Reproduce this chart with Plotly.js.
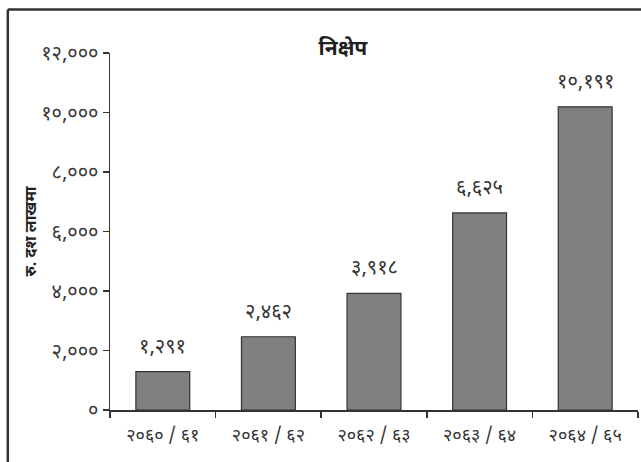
<!DOCTYPE html>
<html>
<head>
<meta charset="utf-8">
<script src="https://cdn.plot.ly/plotly-3.0.1.min.js"></script>
<style>html,body{margin:0;padding:0;background:#fff;}#chart{width:641px;height:462px;}</style>
</head>
<body>
<div id="chart"></div>
<script>
// Data
var categories = ["२०६० / ६१", "२०६१ / ६२", "२०६२ / ६३", "२०६३ / ६४", "२०६४ / ६५"];
var deposits = [1291, 2462, 3918, 6625, 10191];
var valueLabels = ["१,२९१", "२,४६२", "३,९१८", "६,६२५", "१०,१९१"];
var yTickVals = [0, 2000, 4000, 6000, 8000, 10000, 12000];
var yTickText = ["०", "२,०००", "४,०००", "६,०००", "८,०००", "१०,०००", "१२,०००"];
var chartTitle = "निक्षेप";
var yTitle = "रु. दश लाखमा";

var fontFam = "'Noto Sans Devanagari', 'Noto Sans', sans-serif";

var trace = {
  type: "bar",
  x: categories,
  y: deposits,
  marker: {color: "#808083", line: {color: "#333333", width: 1.2}},
  width: 0.51,
  hoverinfo: "none"
};

var annotations = categories.map(function(c, i) {
  return {
    x: c, y: deposits[i], xref: "x", yref: "y",
    text: valueLabels[i], showarrow: false,
    yanchor: "bottom", yshift: 9,
    font: {family: fontFam, size: 20, color: "#333333"}
  };
});

var layout = {
  width: 641, height: 462,
  margin: {l: 110, r: 3, t: 53, b: 52},
  paper_bgcolor: "#ffffff", plot_bgcolor: "#ffffff",
  showlegend: false,
  title: {
    text: "<b>" + chartTitle + "</b>",
    x: 0.535, xref: "container", xanchor: "center",
    y: 0.896, yref: "container", yanchor: "middle",
    font: {family: fontFam, size: 21, color: "#222222"}
  },
  xaxis: {
    type: "category",
    range: [-0.5, 4.5],
    showline: true, linecolor: "#333333", linewidth: 1.5,
    ticks: "outside", ticklen: 6, tickwidth: 1.5, tickcolor: "#333333",
    tickson: "boundaries",
    ticklabelstandoff: 8,
    showgrid: false, zeroline: false,
    tickfont: {family: fontFam, size: 18, color: "#333333"},
    fixedrange: true
  },
  yaxis: {
    range: [0, 12000],
    tickvals: yTickVals, ticktext: yTickText,
    showline: true, linecolor: "#333333", linewidth: 1.5,
    ticks: "outside", ticklen: 6, tickwidth: 1.5, tickcolor: "#333333",
    showgrid: false, zeroline: false,
    tickfont: {family: fontFam, size: 20, color: "#3a3a3a"},
    title: {text: "<b>" + yTitle + "</b>", standoff: 0, font: {family: fontFam, size: 16, color: "#222222"}},
    fixedrange: true
  },
  annotations: annotations,
  shapes: [
    {type: "line", xref: "paper", yref: "paper", x0: -0.1935, x1: 1.02, y0: 1.1218, y1: 1.1218, line: {color: "#333333", width: 2.5}},
    {type: "line", xref: "paper", yref: "paper", x0: -0.1935, x1: -0.1935, y0: 1.1218, y1: -0.2, line: {color: "#333333", width: 2.5}}
  ]
};

Plotly.newPlot("chart", [trace], layout, {displayModeBar: false, staticPlot: true});
</script>
</body>
</html>
